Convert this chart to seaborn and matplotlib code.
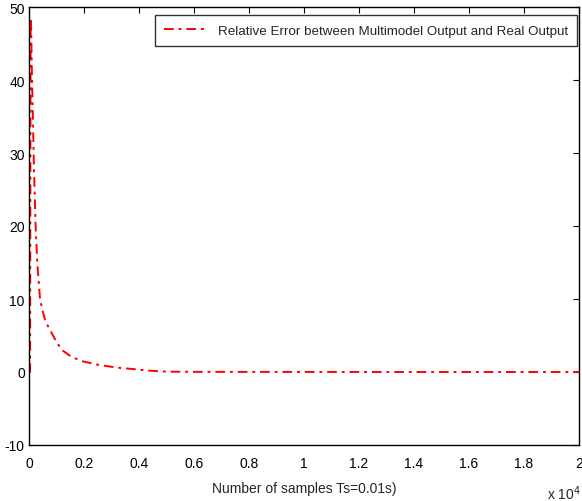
import numpy as np
import pandas as pd
import matplotlib
matplotlib.use("Agg")
import matplotlib.pyplot as plt
import seaborn as sns

# samples (x 10^4) and relative error
samples = [0.0, 0.004, 0.006, 0.008, 0.010, 0.014, 0.018, 0.024, 0.030, 0.040,
           0.050, 0.058, 0.070, 0.083, 0.100, 0.120, 0.150, 0.190, 0.250, 0.320,
           0.380, 0.430, 0.500, 0.600, 1.000, 1.500, 2.000]
rel_error = [0.0, 0.0, 48.5, 47.0, 42.0, 35.0, 28.0, 20.0, 15.0, 10.0,
             8.3, 7.2, 6.2, 5.3, 4.1, 3.0, 2.2, 1.5, 1.0, 0.6,
             0.4, 0.2, 0.05, 0.02, 0.01, 0.0, 0.0]
x_ticks = [0, 0.2, 0.4, 0.6, 0.8, 1, 1.2, 1.4, 1.6, 1.8, 2]
x_tick_labels = ["0", "0.2", "0.4", "0.6", "0.8", "1", "1.2", "1.4", "1.6", "1.8", "2"]
y_ticks = [-10, 0, 10, 20, 30, 40, 50]

df = pd.DataFrame({'samples': samples, 'err': rel_error})

sns.set_style("white")
plt.rcParams['font.family'] = ['Liberation Sans', 'DejaVu Sans']
plt.rcParams['axes.unicode_minus'] = False

fig = plt.figure(figsize=(5.82, 5.02), dpi=100)
ax = fig.add_axes([29/582, 56/502, 550/582, 438/502])

sns.lineplot(data=df, x='samples', y='err', ax=ax, color='red', linewidth=1.4,
             label='Relative Error between Multimodel Output and Real Output')
ax.lines[0].set_dashes((5, 2.5, 1.5, 2.5))

ax.set_xlim(0, 2)
ax.set_ylim(-10, 50)
ax.set_xticks(x_ticks)
ax.set_xticklabels(x_tick_labels)
ax.set_yticks(y_ticks)
ax.tick_params(direction='in', length=4, width=0.8, top=True, right=True,
               labelsize=10, colors='black')
ax.tick_params(axis='x', pad=8)
ax.tick_params(axis='y', pad=3)
for s in ax.spines.values():
    s.set_color('black')
    s.set_linewidth(1.0)

ax.set_xlabel('Number of samples Ts=0.01s)', fontsize=10, labelpad=8)
ax.set_ylabel('')
fig.text(547/582, 1 - 494/502, r'x 10$^{4}$', fontsize=10, va='center', ha='left')

leg = ax.legend(loc='upper right', bbox_to_anchor=(577/582, 1 - 16/502),
                bbox_transform=fig.transFigure, borderaxespad=0,
                fontsize=9.6, frameon=True, fancybox=False,
                handlelength=3.2, borderpad=0.7)
leg.get_frame().set_edgecolor('black')
leg.get_frame().set_linewidth(1.0)

fig.savefig('out.png', dpi=100, facecolor='white')
